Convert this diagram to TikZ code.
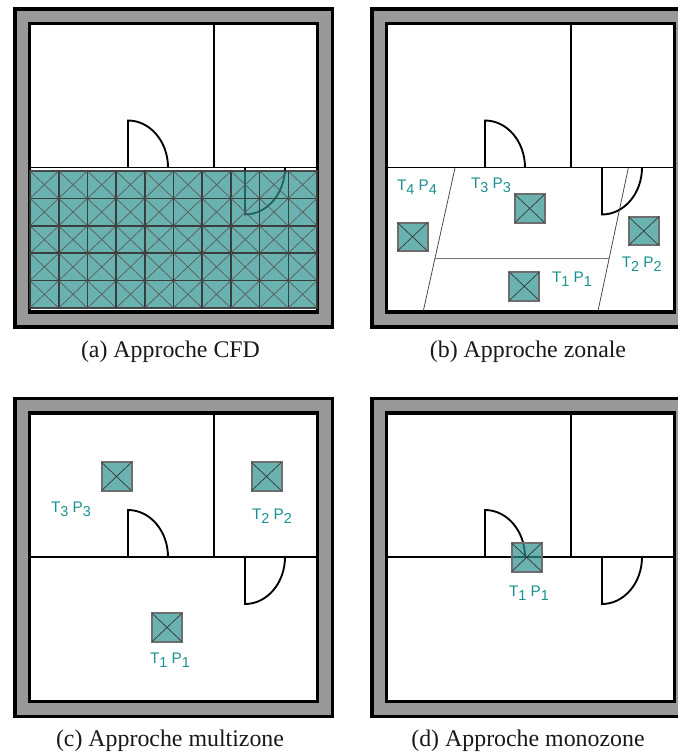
\documentclass[tikz,border=0pt]{standalone}
\usepackage{fontspec}
\setmainfont{Liberation Serif}
\newfontfamily\lblfont{Liberation Sans}
\definecolor{tealfill}{HTML}{2C928E}
\definecolor{teallabel}{HTML}{1B9090}
\definecolor{wallgray}{HTML}{999999}
\definecolor{cellline}{HTML}{6E6E6E}
\definecolor{gridline}{HTML}{3A3A3A}
\newcommand{\roomplan}{%
  \draw[outerwall] (15,9) rectangle (332.5,327);
  \draw[innerwall,fill=white] (29.5,23.5) rectangle (317.5,312);
  \draw[roomline] (29.5,167.5) -- (317.5,167.5);
  \draw[roomline] (214,23.5) -- (214,167.5);
  \draw[roomline] (168,167.5) arc[start angle=0,end angle=-90,x radius=40,y radius=47] -- (128,167.5);
  \draw[roomline] (285,167.5) arc[start angle=0,end angle=90,x radius=40,y radius=47] -- (245,167.5);
}
\newcommand{\sensor}[2]{%
  \fill[tealbox] (#1-15,#2-14.2) rectangle (#1+15,#2+14.2);
  \draw[boxedge] (#1-15,#2-14.2) rectangle (#1+15,#2+14.2);
  \draw[boxdiag] (#1-15,#2-14.2) -- (#1+15,#2+14.2) (#1-15,#2+14.2) -- (#1+15,#2-14.2);
}
\newcommand{\tp}[1]{T\raisebox{-0.28em}{\fontsize{10.8}{10.8}\selectfont #1}\hspace{0.28em}P\raisebox{-0.28em}{\fontsize{10.8}{10.8}\selectfont #1}}
\tikzset{
  outerwall/.style={draw=black,line width=2.7pt,fill=wallgray},
  innerwall/.style={draw=black,line width=2.3pt},
  roomline/.style={draw=black,line width=1.4pt},
  tealbox/.style={fill=tealfill,fill opacity=0.7},
  boxedge/.style={draw=cellline,line width=1.5pt},
  gridedge/.style={draw=gridline,line width=1.2pt,opacity=0.9},
  boxdiag/.style={draw=black!80,line width=0.5pt},
  griddiag/.style={draw=black!65,line width=0.5pt},
  zoneline/.style={draw=black!75,line width=0.55pt},
  zonemid/.style={draw=black!55,line width=0.8pt},
  lbl/.style={text=teallabel,font=\lblfont\fontsize{11.5}{12}\selectfont,inner sep=0pt},
  captext/.style={font=\fontsize{17.9}{20}\selectfont,inner sep=0pt,text=black!90},
}
\begin{document}
\begin{tikzpicture}[x=0.75pt,y=-0.75pt]
\useasboundingbox (0,0) rectangle (678,753);
\clip (0,0) rectangle (678,753);
\fill[white] (0,0) rectangle (678,753);
% (a)
\begin{scope}
  \roomplan
  \foreach \i in {0,...,9}{
    \foreach \j in {0,...,4}{
      \pgfmathsetmacro{\xa}{30+\i*28.7}
      \pgfmathsetmacro{\xb}{\xa+28.7}
      \pgfmathsetmacro{\ya}{171+\j*27.4}
      \pgfmathsetmacro{\yb}{\ya+27.4}
      \fill[tealbox] (\xa,\ya) rectangle (\xb,\yb);
      \draw[gridedge] (\xa,\ya) rectangle (\xb,\yb);
      \draw[griddiag] (\xa,\ya) -- (\xb,\yb) (\xa,\yb) -- (\xb,\ya);
    }
  }
  \node[captext] (capa) at (170.5,352) {(a) Approche CFD};
\end{scope}
% (b)
\begin{scope}[shift={(357,0)}]
  \roomplan
  \coordinate (zt1) at (98,168);
  \coordinate (zb1) at (66.3,311);
  \coordinate (zt2) at (271.3,168);
  \coordinate (zb2) at (241,311);
  \coordinate (zml) at (78.3,258.7);
  \coordinate (zmr) at (252.3,258.7);
  \draw[zoneline] (zt1) -- (zb1);
  \draw[zoneline] (zt2) -- (zb2);
  \draw[zonemid] (zml) -- (zmr);
  \sensor{167.3}{286.3}
  \sensor{172.7}{208.5}
  \sensor{55.5}{236.8}
  \sensor{286.7}{231.1}
  \node[lbl] (bt1) at (215,279) {\tp{1}};
  \node[lbl] (bt2) at (284.7,264) {\tp{2}};
  \node[lbl] (bt3) at (134,185) {\tp{3}};
  \node[lbl] (bt4) at (60,187) {\tp{4}};
  \node[captext] (capb) at (171,352) {(b) Approche zonale};
\end{scope}
% (c)
\begin{scope}[shift={(0,389.5)}]
  \roomplan
  \sensor{116.5}{87}
  \sensor{266.5}{87}
  \sensor{167}{238}
  \node[lbl] (ct3) at (71,120) {\tp{3}};
  \node[lbl] (ct2) at (272,127) {\tp{2}};
  \node[lbl] (ct1) at (170,271) {\tp{1}};
  \node[captext] (capc) at (170,351.5) {(c) Approche multizone};
\end{scope}
% (d)
\begin{scope}[shift={(357,389.5)}]
  \roomplan
  \sensor{169.7}{167.8}
  \node[lbl] (dt1) at (172,204) {\tp{1}};
  \node[captext] (capd) at (171,351.5) {(d) Approche monozone};
\end{scope}
\end{tikzpicture}
\end{document}
